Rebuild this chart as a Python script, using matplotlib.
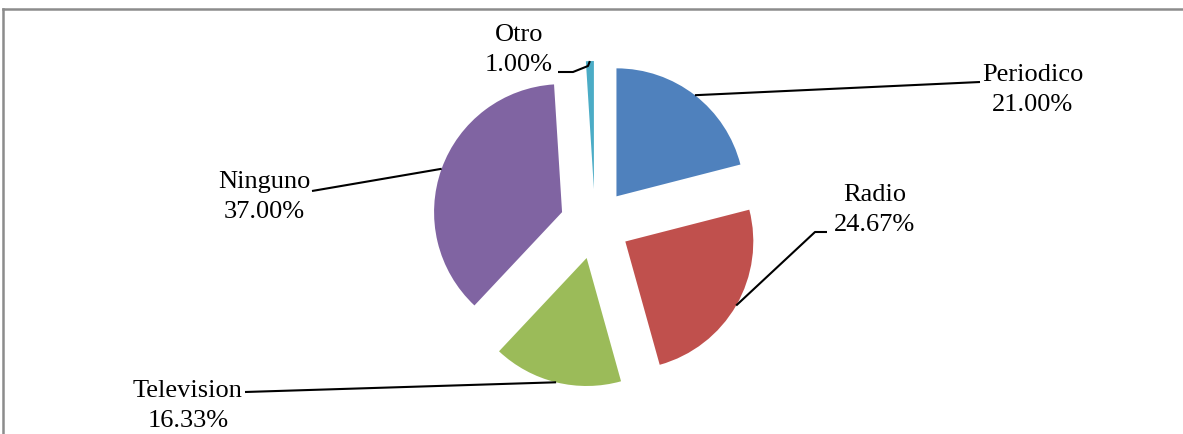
import numpy as np
import matplotlib
matplotlib.use("Agg")
import matplotlib.pyplot as plt
from matplotlib.lines import Line2D

# ---- data ----
categories = ["Periodico", "Radio", "Television", "Ninguno", "Otro"]
values = [21.00, 24.67, 16.33, 37.00, 1.00]
colors = ["#4F81BD", "#C0504D", "#9BBB59", "#8064A2", "#4BACC6"]

# ---- layout (pixel space, y measured from top) ----
W, H = 1183, 435
cx, cy = 595, 225
radius = 128
explode_px = 35
label_pos = {            # centre of the two-line label
    "Periodico": (1033, 90),
    "Radio": (875, 210),
    "Television": (188, 406),
    "Ninguno": (264, 197),
    "Otro": (519, 50),
}
leader_start = {         # path from label toward the slice
    "Periodico": [(980, 83)],
    "Radio": [(827, 233), (815, 233)],
    "Television": [(245, 393)],
    "Ninguno": [(312, 192)],
    "Otro": [(558, 73), (573, 73), (588, 67)],
}

plt.rcParams["font.family"] = ["Liberation Serif", "DejaVu Serif"]

fig = plt.figure(figsize=(W / 100, H / 100), dpi=100)
ax = fig.add_axes([0, 0, 1, 1])

def Y(py):
    return H - py

wedges, _ = ax.pie(values, colors=colors, startangle=90, counterclock=False,
                   radius=radius, center=(cx, Y(cy)),
                   explode=[explode_px] * len(values),
                   wedgeprops=dict(linewidth=0))

ax.set_xlim(0, W)
ax.set_ylim(0, H)
ax.set_aspect("equal")
ax.axis("off")

for name, w in zip(categories, wedges):
    v = values[categories.index(name)]
    tm = np.deg2rad((w.theta1 + w.theta2) / 2)
    ex, ey = w.center
    end = (ex + radius * np.cos(tm), ey + radius * np.sin(tm))
    pts = [(x, Y(y)) for x, y in leader_start[name]] + [end]
    xs, ys = zip(*pts)
    ax.plot(xs, ys, color="black", lw=1.5, solid_capstyle="butt")
    lx, ly = label_pos[name]
    ax.text(lx, Y(ly), f"{name}\n{v:.2f}%", ha="center", va="center",
            multialignment="center", fontsize=19, color="black",
            linespacing=1.42)

# chart border (partially visible)
fig.add_artist(Line2D([3 / W, 1], [1 - 10 / H, 1 - 10 / H], color="#8c8c8c",
                      lw=1.8, transform=fig.transFigure))
fig.add_artist(Line2D([3 / W, 3 / W], [0, 1 - 10 / H], color="#8c8c8c",
                      lw=1.8, transform=fig.transFigure))

fig.savefig("out.png", dpi=100, facecolor="white")
